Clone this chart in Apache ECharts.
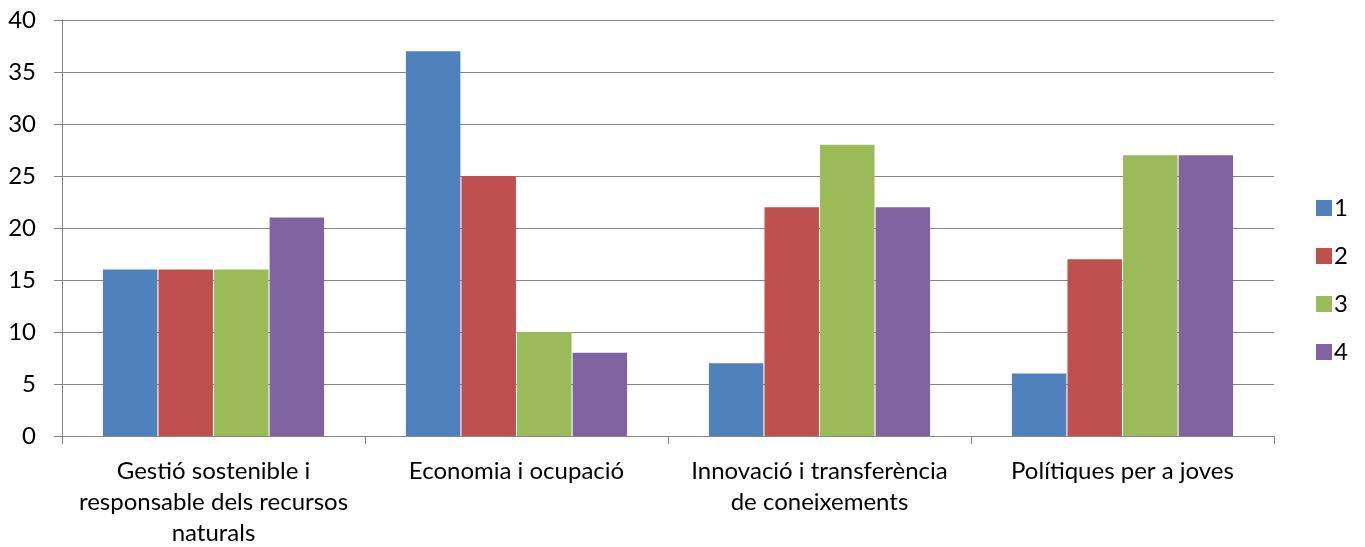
<!DOCTYPE html>
<html><head><meta charset="utf-8">
<script src="https://cdn.jsdelivr.net/npm/echarts@6/dist/echarts.min.js"></script>
<style>html,body{margin:0;padding:0;background:#fff}#c{width:1365px;height:547px}</style>
</head><body><div id="c"></div>
<script>
const categories = ["Gestió sostenible i\nresponsable dels recursos\nnaturals", "Economia i ocupació", "Innovació i transferència\nde coneixements", "Polítiques per a joves"];
const seriesNames = ["1", "2", "3", "4"];
const s1 = [16, 37, 7, 6];
const s2 = [16, 25, 22, 17];
const s3 = [16, 10, 28, 27];
const s4 = [21, 8, 22, 27];
const colors = ["#4F81BD", "#C0504D", "#9BBB59", "#8064A2"];
const font = "Lato, 'Open Sans', sans-serif";
const chart = echarts.init(document.getElementById('c'));
chart.setOption({
  animation: false,
  color: colors,
  textStyle: {fontFamily: font},
  grid: {left: 62, right: 91, top: 20, bottom: 111, containLabel: false, outerBoundsMode: 'none'},
  legend: {
    orient: 'vertical', left: 1316, top: 196, itemWidth: 16, itemHeight: 16, itemGap: 24,
    padding: 0,
    icon: 'rect', textStyle: {fontSize: 24, color: '#000', fontFamily: font, padding: [0,0,0,-3]},
    data: seriesNames
  },
  xAxis: {
    type: 'category', data: categories,
    axisLine: {lineStyle: {color: '#868686', width: 1}},
    axisTick: {show: true, length: 8, inside: false, alignWithLabel: false, lineStyle: {color: '#868686'}},
    axisLabel: {fontSize: 24, color: '#000', fontFamily: font, lineHeight: 31, margin: 20, interval: 0}
  },
  yAxis: {
    type: 'value', min: 0, max: 40, interval: 5,
    axisLine: {show: true, lineStyle: {color: '#868686', width: 1}},
    axisTick: {show: true, length: 8, lineStyle: {color: '#868686'}},
    splitLine: {lineStyle: {color: '#868686', width: 1}},
    axisLabel: {fontSize: 24, color: '#000', fontFamily: font, margin: 26}
  },
  series: [s1, s2, s3, s4].map((d, i) => ({
    name: seriesNames[i], type: 'bar', data: d, barGap: '2%', barCategoryGap: '27%'
  }))
});
</script></body></html>
